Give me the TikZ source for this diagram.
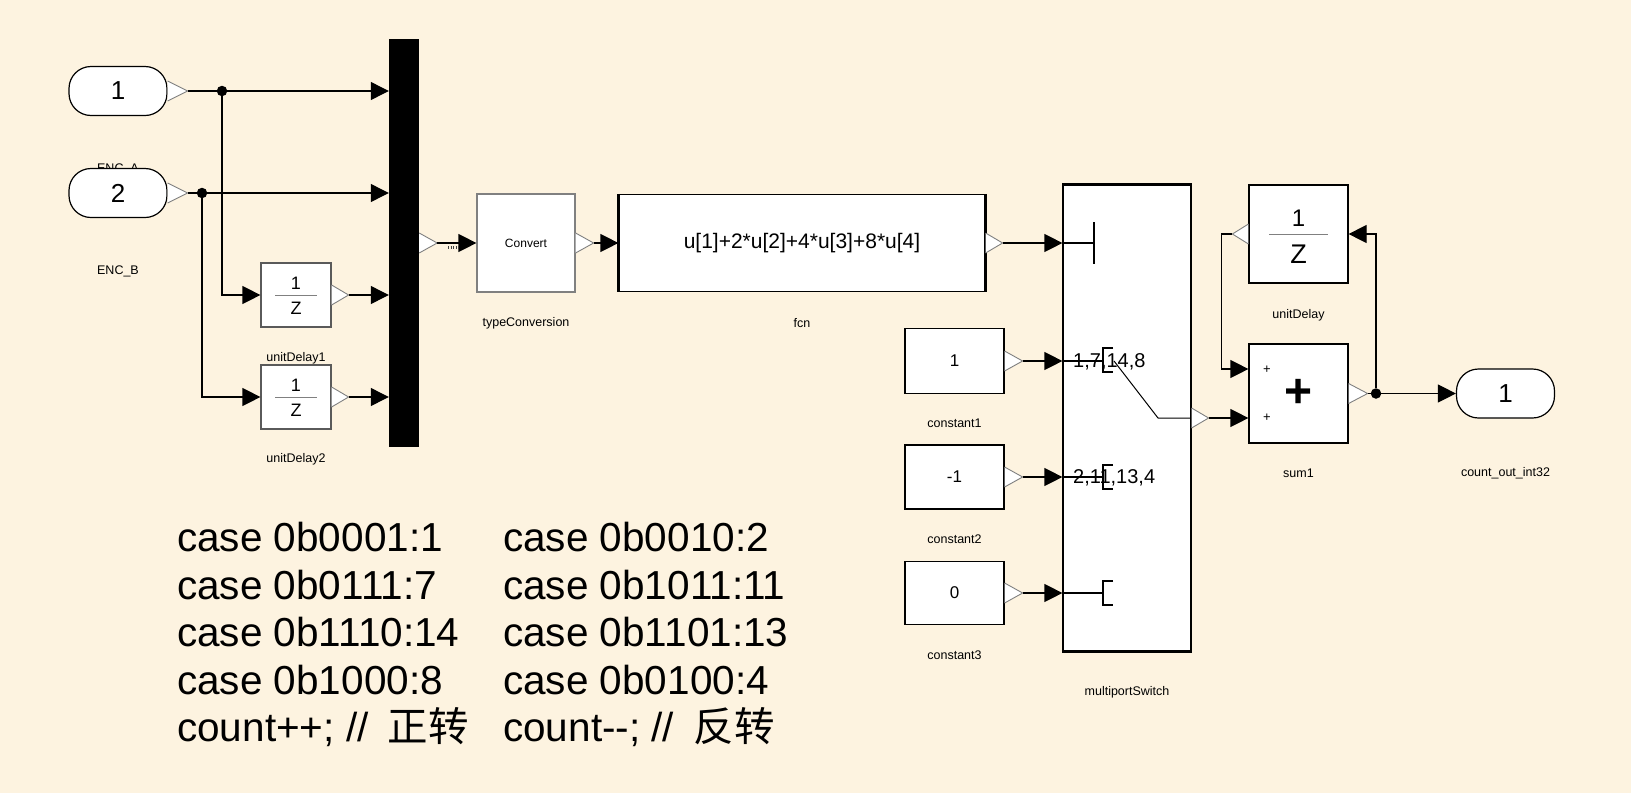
\documentclass[tikz,border=0pt]{standalone}
\usepackage{fontspec}
\setmainfont{Liberation Sans}
\newfontfamily\cjk{Noto Sans CJK SC}
\usetikzlibrary{arrows.meta}
\definecolor{bg}{RGB}{253,243,224}
\definecolor{tri}{RGB}{128,128,128}
\definecolor{dgray}{RGB}{90,90,90}
% output port triangle pointing right: anchor, coordinate name, length
\newcommand\optri[3]{%
  \coordinate (#2) at ([xshift=#3pt]#1);
  \draw[otri] ([yshift=10pt]#1) -- (#2) -- ([yshift=-10pt]#1);}
\newcommand\optriL[3]{%
  \coordinate (#2) at ([xshift=-#3pt]#1);
  \draw[otri] ([yshift=10pt]#1) -- (#2) -- ([yshift=-10pt]#1);}
\begin{document}
\begin{tikzpicture}[x=1pt,y=-1pt,
  wire/.style={line width=1.2pt},
  arr/.style={wire,-{Triangle[length=18pt,width=18pt]}},
  blk/.style={draw,fill=white,line width=1.2pt,inner sep=0pt},
  lbl/.style={font=\fontsize{12.5}{14}\selectfont,inner sep=0pt},
  otri/.style={draw=tri,fill=white,line width=0.9pt,line join=miter},
  dot/.style={circle,fill=black,inner sep=0pt,minimum size=10.5pt},
  big/.style={font=\fontsize{40.5}{47.5}\selectfont,inner sep=0pt,anchor=base west},
  port/.style={blk,rounded corners=22pt,minimum width=98pt,minimum height=49pt,font=\fontsize{26}{30}\selectfont},
  frac/.style={font=\fontsize{18}{20}\selectfont,inner sep=0pt},
  sw/.style={font=\fontsize{20}{22}\selectfont,inner sep=0pt,anchor=west},
]
\fill[bg] (0,0) rectangle (1631,793);
\useasboundingbox (0,0) rectangle (1631,793);

% ---------------- inports
\node[lbl] (encA) at (118,169) {ENC\_A};
\node[port] (in1) at (118,91) {1};
\node[port] (in2) at (118,193) {2};
\node[lbl] (encB) at (118,271) {ENC\_B};
\optri{in1.east}{in1o}{20}
\optri{in2.east}{in2o}{20}

% ---------------- mux
\node[fill=black,inner sep=0pt,minimum width=30pt,minimum height=408pt] (mux) at (404,243) {};

% ---------------- unit delays 1,2
\node[blk,draw=dgray,minimum width=70pt,minimum height=64pt] (ud1) at (296,295) {};
\node[blk,draw=dgray,minimum width=70pt,minimum height=64pt] (ud2) at (296,397) {};
\draw[tri,line width=1pt] (275,295) -- (317,295);
\draw[tri,line width=1pt] (275,397) -- (317,397);
\node[frac] (ud1n) at (296,283) {1};
\node[frac] (ud1d) at (296,308) {Z};
\node[frac] (ud2n) at (296,385) {1};
\node[frac] (ud2d) at (296,410) {Z};
\node[lbl] (ud1l) at (296,358) {unitDelay1};
\node[lbl] (ud2l) at (296,459) {unitDelay2};
\optri{ud1.east}{ud1o}{17}
\optri{ud2.east}{ud2o}{17}

% junctions and wires
\node[dot] (j1) at (222,91) {};
\node[dot] (j2) at (202,193) {};
\draw[wire] (in1o) -- (j1);
\draw[wire] (in2o) -- (j2);
\draw[arr] (j1) -- (j1 -| mux.west);
\draw[arr] (j2) -- (j2 -| mux.west);
\draw[arr] (j1) |- (ud1.west);
\draw[arr] (j2) |- (ud2.west);
\draw[arr] (ud1o) -- (ud1o -| mux.west);
\draw[arr] (ud2o) -- (ud2o -| mux.west);

% ---------------- type conversion
\node[blk,draw=tri,minimum width=98pt,minimum height=98pt,font=\fontsize{12}{14}\selectfont] (conv) at (526,243) {Convert};
\node[lbl] (convl) at (526,323) {typeConversion};
\optri{mux.east}{muxo}{18}
\draw[arr] (muxo) -- (conv.west);
\draw[line width=3pt,dash pattern=on 1pt off 1.6pt,draw=black!75] (448,247) -- (460,247);

% ---------------- fcn
\node[blk,minimum width=366pt,minimum height=97pt,font=\fontsize{21}{24}\selectfont] (fcn) at (802,243) {u[1]+2*u[2]+4*u[3]+8*u[4]};
\draw[line width=3.5pt] (fcn.north west) -- (fcn.south west);
\draw[line width=3.5pt] (fcn.north east) -- (fcn.south east);
\node[lbl] (fcnl) at (802,323) {fcn};
\optri{conv.east}{convo}{18}
\draw[arr] (convo) -- (fcn.west);

% ---------------- multiport switch
\node[blk,minimum width=128pt,minimum height=466pt] (sw) at (1127,418) {};
\draw[line width=3pt] (sw.north west) -- (sw.north east);
\draw[line width=3pt] (sw.south west) -- (sw.south east);
\node[lbl] (swl) at (1127,692) {multiportSwitch};
\optri{fcn.east}{fcno}{17}
\draw[arr] (fcno) -- (fcno -| sw.west);
\draw[wire] (fcno -| sw.west) -- (1094,243);
\draw[wire] (1094,222) -- (1094,264);

% ---------------- constants
\node[blk,minimum width=99pt,minimum height=65pt,font=\fontsize{17}{20}\selectfont] (c1) at (954.5,361) {1};
\node[blk,minimum width=99pt,minimum height=64pt,font=\fontsize{17}{20}\selectfont] (c2) at (954.5,477) {-1};
\node[blk,minimum width=99pt,minimum height=63pt,font=\fontsize{17}{20}\selectfont] (c3) at (954.5,593) {0};
\node[lbl] (c1l) at (954.5,423) {constant1};
\node[lbl] (c2l) at (954.5,539) {constant2};
\node[lbl] (c3l) at (954.5,655) {constant3};
\optri{c1.east}{c1o}{18}
\optri{c2.east}{c2o}{18}
\optri{c3.east}{c3o}{18}
\draw[arr] (c1o) -- (c1o -| sw.west);
\draw[arr] (c2o) -- (c2o -| sw.west);
\draw[arr] (c3o) -- (c3o -| sw.west);
% internal switch drawing
\draw[line width=1.8pt] (c1o -| sw.west) -- (1103,361);
\draw[line width=1.8pt] (c2o -| sw.west) -- (1103,477);
\draw[wire] (c3o -| sw.west) -- (1103,593);
\draw[wire] (1113,348) -- (1103,348) -- (1103,372) -- (1113,372);
\draw[wire] (1113,465) -- (1103,465) -- (1103,489) -- (1113,489);
\draw[wire] (1113,581) -- (1103,581) -- (1103,605) -- (1113,605);
\node[sw] (sw1t) at (1073,362) {1,7,14,8};
\node[sw] (sw2t) at (1073,478) {2,11,13,4};
\draw[line width=1pt] (1114,361) -- (1158,418) -- (sw.east);

% ---------------- sum, unit delay, outport
\node[blk,minimum width=99pt,minimum height=99pt] (sum) at (1298.5,393.5) {};
\node[font=\fontsize{48}{50}\selectfont\bfseries,inner sep=0pt] (sumplus) at (1298.5,393.5) {+};
\node[font=\fontsize{13}{14}\selectfont,inner sep=0pt] (sp1) at (1267,370) {+};
\node[font=\fontsize{13}{14}\selectfont,inner sep=0pt] (sp2) at (1267,418) {+};
\node[lbl] (suml) at (1298.5,473) {sum1};
\coordinate (sin1) at ([yshift=24.5pt]sum.west);

\node[blk,minimum width=99pt,minimum height=98pt] (ud) at (1298.5,234) {};
\draw[tri,line width=1pt] (1269,234) -- (1328,234);
\node[font=\fontsize{24}{26}\selectfont,inner sep=0pt] (udn) at (1298.5,218) {1};
\node[font=\fontsize{27}{29}\selectfont,inner sep=0pt] (udd) at (1298.5,254) {Z};
\node[lbl] (udl) at (1298.5,315) {unitDelay};

\node[port] (outp) at (1505.5,393.5) {1};
\node[lbl] (outl) at (1505.5,473) {count\_out\_int32};

\optri{sw.east}{swo}{17}
\draw[arr] (swo) -- (swo -| sum.west);
\optri{sum.east}{sumo}{19}
\node[dot] (j3) at (1376,393.5) {};
\draw[wire] (sumo) -- (j3);
\draw[arr] (j3) -- (outp.west);
\draw[arr] (j3) |- (ud.east);
\optriL{ud.west}{udo}{16}
\draw[arr] (udo) -- ++(-11,0) |- (sin1);

% ---------------- text block
\node[big] (t11) at (177,551.7) {case 0b0001:1};
\node[big] (t12) at (177,599.2) {case 0b0111:7};
\node[big] (t13) at (177,646.7) {case 0b1110:14};
\node[big] (t14) at (177,694.2) {case 0b1000:8};
\node[big] (t15) at (177,741.7) {count++; //\hspace{8pt} {\cjk 正转}};
\node[big] (t21) at (503,551.7) {case 0b0010:2};
\node[big] (t22) at (503,599.2) {case 0b1011:11};
\node[big] (t23) at (503,646.7) {case 0b1101:13};
\node[big] (t24) at (503,694.2) {case 0b0100:4};
\node[big] (t25) at (503,741.7) {count-{}-; //\hspace{8pt} {\cjk 反转}};
\end{tikzpicture}
\end{document}
